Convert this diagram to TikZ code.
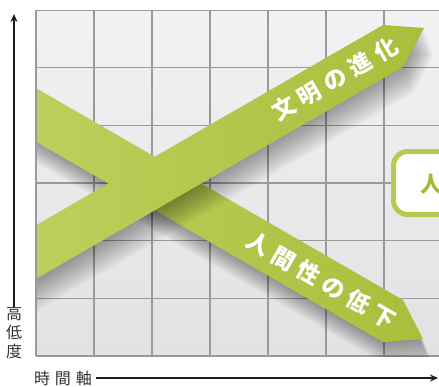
\documentclass[tikz,border=0pt]{standalone}
\usepackage{fontspec}
\newfontfamily\jp{Noto Sans CJK JP}
\usetikzlibrary{arrows.meta}
\definecolor{gridtop}{HTML}{F2F2F4}
\definecolor{gridbot}{HTML}{E2E2E4}
\definecolor{gridln}{HTML}{9A9A9C}
\definecolor{bandA}{HTML}{BDD05E}
\definecolor{bandB}{HTML}{A8BF3B}
\definecolor{boxln}{HTML}{B4CA50}
\definecolor{txtgreen}{HTML}{A2BA38}
\definecolor{axisc}{HTML}{1E1E1E}
\definecolor{labc}{HTML}{333333}
\tikzset{
  upband/.style={insert path={(20,234.5) -- (383,25) -- (424,28) -- (403,67) -- (20,288.1) -- cycle}},
  downband/.style={insert path={(20,78.9) -- (403,300) -- (423,339) -- (383,342) -- (20,132.5) -- cycle}},
  bandfill/.style={left color=bandA, right color=bandB, draw=none},
  bandtext/.style={text=white, font=\jp\bfseries\fontsize{23}{23}\selectfont, inner sep=0pt},
  axislab/.style={text=labc, font=\jp\fontsize{16}{19}\selectfont, inner sep=2pt},
  axisline/.style={draw=axisc, line width=1.7pt, -{Stealth[length=8pt,width=7pt]}},
}
\begin{document}
\begin{tikzpicture}[x=1pt,y=-1pt]
\clip (0,0) rectangle (439,386);
\fill[white] (0,0) rectangle (439,386);
% grid area
\begin{scope}
\clip (36,10) rectangle (460,356);
\shade[top color=gridtop, bottom color=gridbot] (36,10) rectangle (460,356);
\foreach \xx in {36,94,152,210,268,326,384} \draw[gridln, line width=1.1pt] (\xx,10) -- (\xx,356);
\foreach \yy in {10,67.7,125.3,183,240.7,298.3,356} \draw[gridln, line width=1.1pt] (36,\yy) -- (460,\yy);
% shadow of the descending band
\foreach \k in {0,...,14} \fill[black, opacity=0.026, shift={(0.7*\k,1.9*\k)}, downband];
\shade[bandfill, downband];
% shadow of the ascending band
\foreach \k in {0,...,14} \fill[black, opacity=0.026, shift={(0.7*\k,1.9*\k)}, upband];
\shade[bandfill, upband];
\end{scope}
\draw[gridln, line width=1.1pt] (36,10) -- (36,356);
% band texts
\node[bandtext, rotate=30] (civ) at (335,79) {文\kern6.6pt 明\kern6.6pt の\kern6.6pt 進\kern6.6pt 化};
\node[bandtext, rotate=-30] (hum) at (321.5,280) {人\kern6pt 間\kern6pt 性\kern6pt の\kern6pt 低\kern6pt 下};
% box on the right
\draw[boxln, fill=white, line width=5pt, rounded corners=14pt] (393.5,151.5) rectangle (490,214.5);
\node[text=txtgreen, font=\jp\bfseries\fontsize{22}{22}\selectfont, inner sep=0pt] (box) at (431,184) {人};
% axes
\node[axislab, align=center] (ylab) at (14,332) {高\\低\\度};
\coordinate (ytop) at (14,14);
\draw[axisline] ([yshift=-4pt]ylab.north) -- (ytop);
\node[axislab] (xlab) at (63,378) {時\kern5pt 間\kern5pt 軸};
\coordinate (xend) at (438,378);
\draw[axisline, line width=1.5pt] ([xshift=2pt]xlab.east) -- (xend);
\end{tikzpicture}
\end{document}
